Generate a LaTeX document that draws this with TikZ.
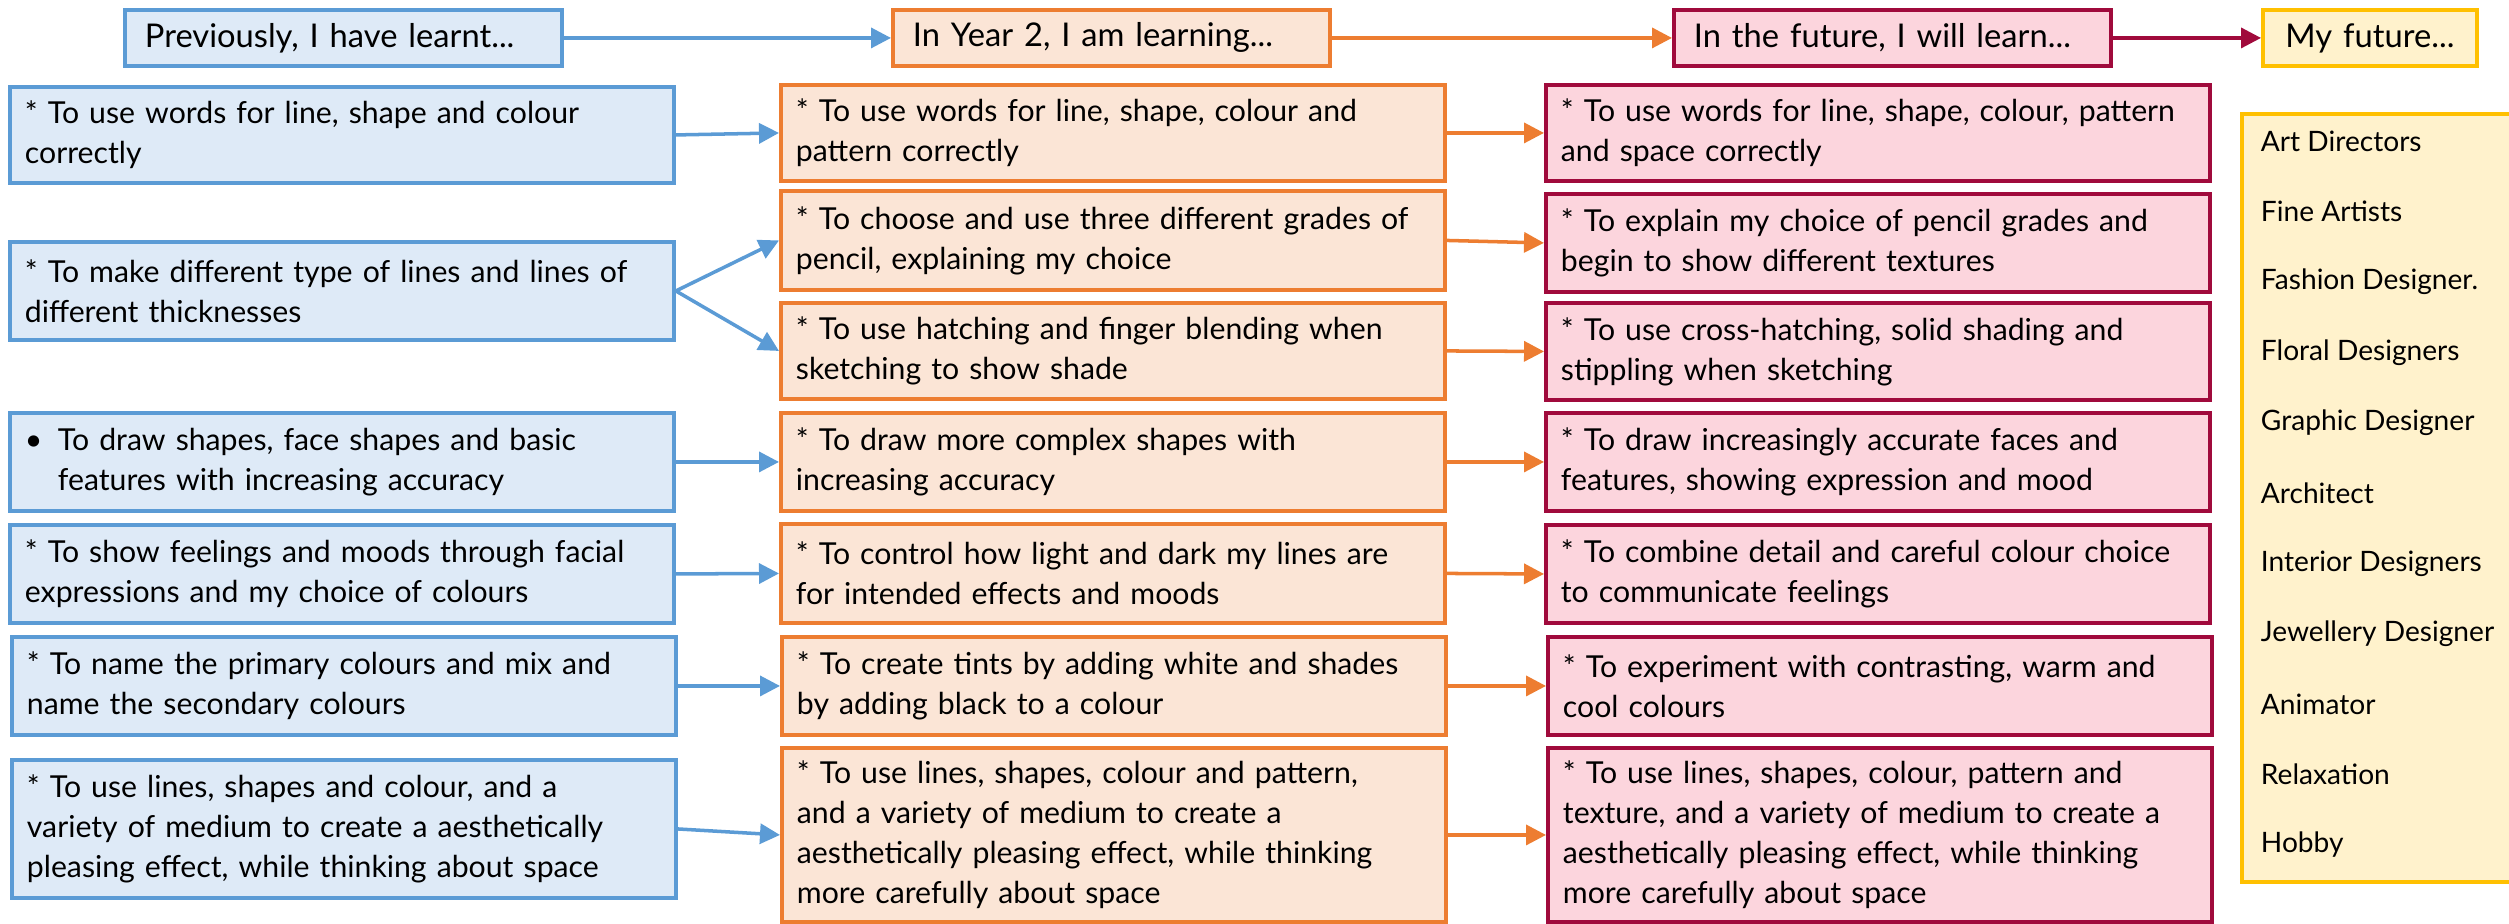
\documentclass[tikz,border=0pt]{standalone}
\usepackage{fontspec}
\setmainfont{Lato}
\usetikzlibrary{arrows.meta,positioning}
\definecolor{learntline}{HTML}{5B9BD5}
\definecolor{learntfill}{HTML}{DEEAF7}
\definecolor{learningline}{HTML}{ED7D31}
\definecolor{learningfill}{HTML}{FBE5D6}
\definecolor{futureline}{HTML}{A00A3C}
\definecolor{futurefill}{HTML}{FCD5DD}
\definecolor{jobline}{HTML}{FFC000}
\definecolor{jobfill}{HTML}{FFF2CC}

\begin{document}
\begin{tikzpicture}
	[every node/.style={inner xsep=0.15cm,inner ysep=0pt,line width=1.1pt,
		font=\fontsize{8.6}{11.4}\selectfont,align=left,anchor=north west},
	learnt/.style={draw=learntline,fill=learntfill,text width=6.34cm},
	learning/.style={draw=learningline,fill=learningfill,text width=6.34cm},
	willlearn/.style={draw=futureline,fill=futurefill,text width=6.34cm},
	head/.style={minimum height=0.56cm,inner xsep=0.2cm,text width=3.97cm,
		font=\fontsize{9.3}{11.4}\selectfont},
	link/.style={-{Triangle[length=0.2cm,width=0.2cm]},line width=1pt}]
	\useasboundingbox (0,0) rectangle (25.09,-9.23);
	% column headings
	\node[head,draw=learntline,fill=learntfill] (h1) at (1.23,-0.08) {Previously, I have learnt...};
	\node[head,draw=learningline,fill=learningfill] (h2) at (8.91,-0.08) {In Year 2, I am learning...};
	\node[head,draw=futureline,fill=futurefill] (h3) at (16.72,-0.08) {In the future, I will learn...};
	\node[head,draw=jobline,fill=jobfill,text width=1.74cm,align=center] (h4) at (22.61,-0.08) {My future...};
	% previously
	\node[learnt,minimum height=0.96cm] (b1) at (0.08,-0.85) {* To use words for line, shape and colour\\correctly};
	\node[learnt,minimum height=0.98cm] (b2) at (0.08,-2.40) {* To make different type of lines and lines of\\different thicknesses};
	\node[learnt,minimum height=0.98cm] (b3) at (0.08,-4.11) {\makebox[0.33cm][l]{\textbullet}To draw shapes, face shapes and basic\\\hspace*{0.33cm}features with increasing accuracy};
	\node[learnt,minimum height=0.98cm] (b4) at (0.08,-5.23) {* To show feelings and moods through facial\\expressions and my choice of colours};
	\node[learnt,minimum height=0.98cm] (b5) at (0.10,-6.35) {* To name the primary colours and mix and\\name the secondary colours};
	\node[learnt,minimum height=1.38cm] (b6) at (0.10,-7.58) {* To use lines, shapes and colour, and a\\variety of medium to create a aesthetically\\pleasing effect, while thinking about space};
	% year 2
	\node[learning,minimum height=0.96cm] (o1) at (7.79,-0.83) {* To use words for line, shape, colour and\\pattern correctly};
	\node[learning,minimum height=0.99cm] (o2) at (7.79,-1.89) {* To choose and use three different grades of\\pencil, explaining my choice};
	\node[learning,minimum height=0.96cm] (o3) at (7.79,-3.01) {* To use hatching and finger blending when\\sketching to show shade};
	\node[learning,minimum height=0.98cm] (o4) at (7.79,-4.11) {* To draw more complex shapes with\\increasing accuracy};
	\node[learning,minimum height=0.99cm] (o5) at (7.79,-5.22) {* To control how light and dark my lines are\\for intended effects and moods};
	\node[learning,minimum height=0.98cm] (o6) at (7.80,-6.35) {* To create tints by adding white and shades\\by adding black to a colour};
	\node[learning,minimum height=1.74cm] (o7) at (7.80,-7.46) {* To use lines, shapes, colour and pattern,\\and a variety of medium to create a\\aesthetically pleasing effect, while thinking\\more carefully about space};
	% in the future
	\node[willlearn,minimum height=0.96cm] (p1) at (15.44,-0.83) {* To use words for line, shape, colour, pattern\\and space correctly};
	\node[willlearn,minimum height=0.98cm] (p2) at (15.44,-1.92) {* To explain my choice of pencil grades and\\begin to show different textures};
	\node[willlearn,minimum height=0.97cm] (p3) at (15.44,-3.01) {* To use cross-hatching, solid shading and\\stippling when sketching};
	\node[willlearn,minimum height=0.98cm] (p4) at (15.44,-4.11) {* To draw increasingly accurate faces and\\features, showing expression and mood};
	\node[willlearn,minimum height=0.98cm] (p5) at (15.44,-5.23) {* To combine detail and careful colour choice\\to communicate feelings};
	\node[willlearn,minimum height=0.98cm] (p6) at (15.46,-6.35) {* To experiment with contrasting, warm and\\cool colours};
	\node[willlearn,minimum height=1.74cm] (p7) at (15.46,-7.46) {* To use lines, shapes, colour, pattern and\\texture, and a variety of medium to create a\\aesthetically pleasing effect, while thinking\\more carefully about space};
	% my future
	\node[draw=jobline,fill=jobfill,minimum width=2.75cm,minimum height=7.68cm,inner sep=0pt] (jobs) at (22.40,-1.12) {};
	\foreach \job [count=\i from 0] in {Art Directors,Fine Artists,Fashion Designer.,Floral Designers,Graphic Designer,Architect,Interior Designers,Jewellery Designer,Animator,Relaxation,Hobby}
		\node[anchor=west,inner xsep=0pt,font=\fontsize{8}{10}\selectfont] (job\i) at (22.59,-1.41-0.704*\i) {\job};
	% links
	\path
	\foreach \startNode/\endNode in {h1/h2,b1/o1,b2/o2,b2/o3,b3/o4,b4/o5,b5/o6,b6/o7}
	{
		(\startNode.east) edge[link,learntline] (\endNode.west)
	};
	\path
	\foreach \startNode/\endNode in {h2/h3,o1/p1,o2/p2,o3/p3,o4/p4,o5/p5,o6/p6,o7/p7}
	{
		(\startNode.east) edge[link,learningline] (\endNode.west)
	};
	\draw[link,futureline] (h3.east) to (h4.west);
\end{tikzpicture}
\end{document}
